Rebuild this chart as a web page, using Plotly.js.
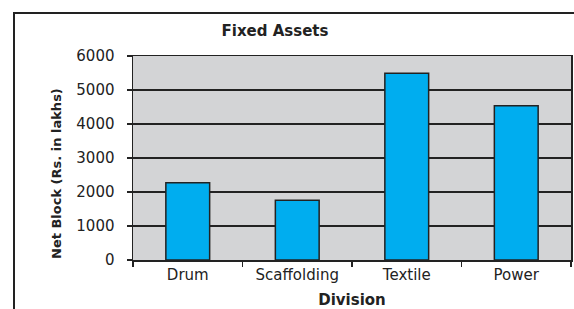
<!DOCTYPE html>
<html>
<head>
<meta charset="utf-8">
<script src="https://cdn.plot.ly/plotly-3.0.1.min.js"></script>
<style>
  html, body { margin: 0; padding: 0; background: #fff; }
  #wrap { position: relative; width: 574px; height: 309px; overflow: hidden; }
  #chart { width: 574px; height: 309px; }
  #frame { position: absolute; left: 13px; top: 12px; width: 600px; height: 400px;
           border-left: 2px solid #222; border-top: 2px solid #222; pointer-events: none; }
</style>
</head>
<body>
<div id="wrap">
  <div id="chart"></div>
  <div id="frame"></div>
</div>
<script>
const categories = ["Drum", "Scaffolding", "Textile", "Power"];
const netBlock = [2270, 1760, 5490, 4540];
const yTicks = [0, 1000, 2000, 3000, 4000, 5000, 6000];

const font = "DejaVu Sans, Arial, sans-serif";
const ink = "#222222";

const trace = {
  type: "bar",
  x: categories,
  y: netBlock,
  marker: { color: "#00adef", line: { color: ink, width: 1.5 } },
  hoverinfo: "x+y"
};

const layout = {
  width: 574,
  height: 309,
  margin: { l: 133, r: 3, t: 56, b: 49 },
  paper_bgcolor: "#ffffff",
  plot_bgcolor: "#d3d4d6",
  bargap: 0.6,
  showlegend: false,
  font: { family: font, color: ink, size: 15 },
  title: {
    text: "<b>Fixed Assets</b>",
    font: { family: font, size: 15, color: ink },
    xref: "container", x: 275 / 574, xanchor: "center",
    yref: "container", y: 1 - 31 / 309, yanchor: "middle"
  },
  xaxis: {
    type: "category",
    tickson: "boundaries",
    ticks: "outside",
    ticklen: 5,
    tickwidth: 1.5,
    tickcolor: ink,
    showline: true,
    linecolor: ink,
    linewidth: 1.5,
    mirror: true,
    showgrid: false,
    tickfont: { family: font, size: 15, color: ink },
    title: { text: "<b>Division</b>", font: { family: font, size: 15, color: ink }, standoff: 19 }
  },
  yaxis: {
    range: [0, 6000],
    tickvals: yTicks,
    ticktext: yTicks.map(String),
    ticks: "outside",
    ticklen: 5,
    tickwidth: 1.5,
    tickcolor: ink,
    ticklabelstandoff: 9,
    showline: true,
    linecolor: ink,
    linewidth: 1.5,
    mirror: true,
    showgrid: true,
    gridcolor: ink,
    gridwidth: 1.2,
    zeroline: false,
    tickfont: { family: font, size: 15, color: ink }
  },
  annotations: [{
    text: "<b>Net Block (Rs. in lakhs)</b>",
    textangle: -90,
    xref: "paper", yref: "paper",
    x: (56 - 133) / 438, y: (260 - 174) / 204,
    xanchor: "center", yanchor: "middle",
    showarrow: false,
    font: { family: font, size: 13, color: ink }
  }]
};

Plotly.newPlot("chart", [trace], layout, { displayModeBar: false, staticPlot: true });
</script>
</body>
</html>
